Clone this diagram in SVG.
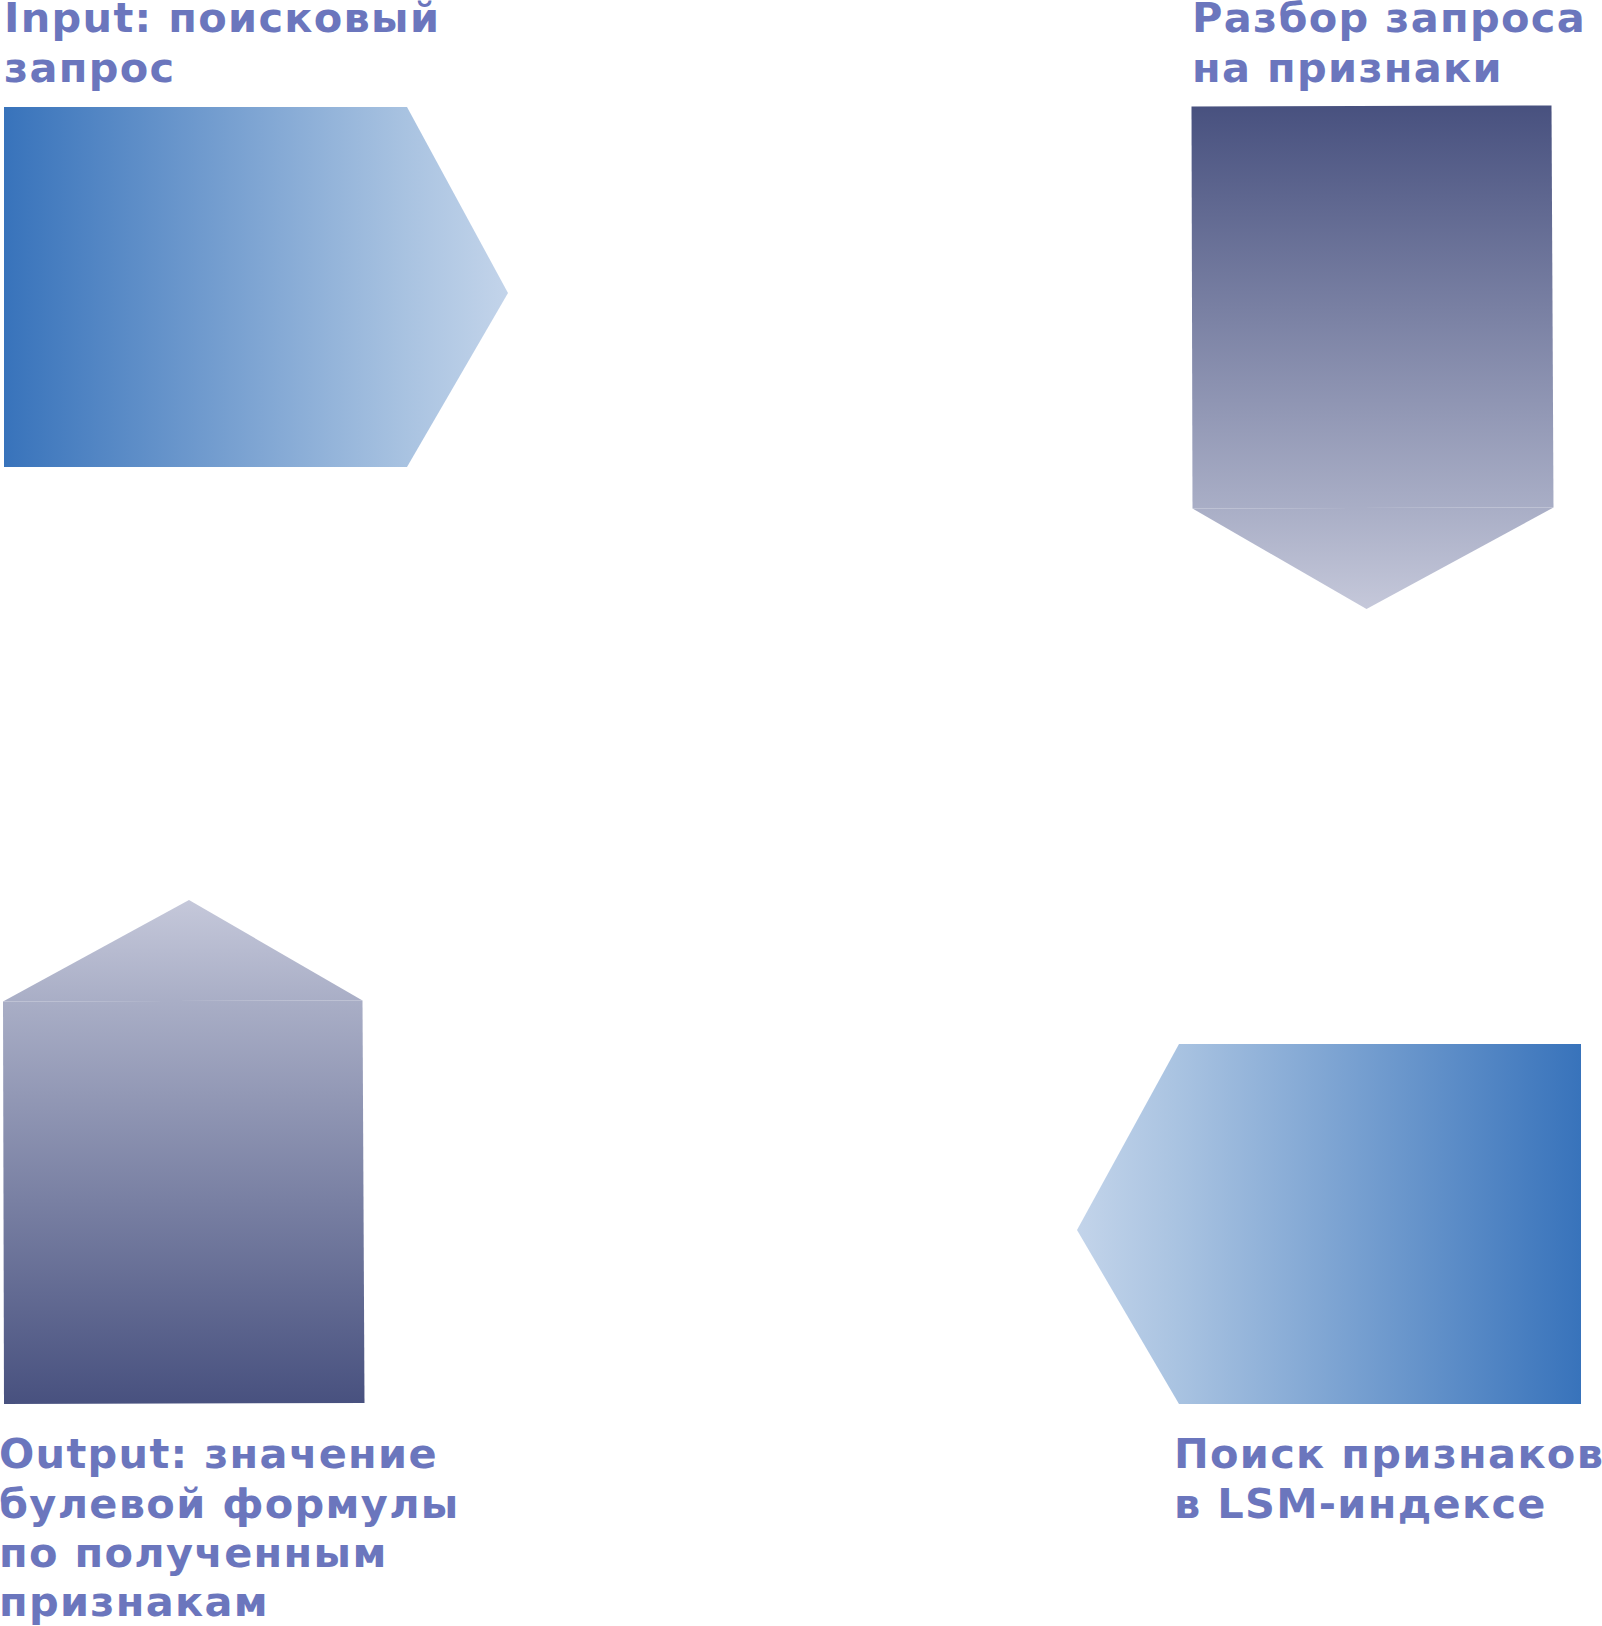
<svg xmlns="http://www.w3.org/2000/svg" width="1602" height="1626" viewBox="0 0 1602 1626">
<style>
.lbl{font-family:"DejaVu Sans","Liberation Sans",sans-serif;font-weight:bold;font-size:41.5px;letter-spacing:1.3px;fill:#6b76bd}
</style>
<defs>
<linearGradient id="gBlueR" gradientUnits="userSpaceOnUse" x1="4" y1="0" x2="508" y2="0">
<stop offset="0" stop-color="#3873bb"/>
<stop offset="0.8" stop-color="#a9c3e1"/>
<stop offset="1" stop-color="#c3d4ea"/>
</linearGradient>
<linearGradient id="gBlueL" gradientUnits="userSpaceOnUse" x1="1581" y1="0" x2="1077" y2="0">
<stop offset="0" stop-color="#3873bb"/>
<stop offset="0.8" stop-color="#a9c3e1"/>
<stop offset="1" stop-color="#c3d4ea"/>
</linearGradient>
<linearGradient id="gPurD" gradientUnits="userSpaceOnUse" x1="0" y1="106" x2="0" y2="609">
<stop offset="0" stop-color="#48517f"/>
<stop offset="0.8" stop-color="#a9aec6"/>
<stop offset="1" stop-color="#c5c8da"/>
</linearGradient>
<linearGradient id="gPurU" gradientUnits="userSpaceOnUse" x1="0" y1="1404" x2="0" y2="900">
<stop offset="0" stop-color="#48517f"/>
<stop offset="0.8" stop-color="#a9aec6"/>
<stop offset="1" stop-color="#c5c8da"/>
</linearGradient>
</defs>

<g id="node-input">
<polygon points="4,107 407,107 407,467 4,467" fill="url(#gBlueR)"/>
<polygon points="407,107 508,293 407,467" fill="url(#gBlueR)"/>
<text class="lbl" x="4" y="32">Input: поисковый</text>
<text class="lbl" x="4" y="82">запрос</text>
</g>

<g id="node-parse">
<polygon points="1191.5,106.5 1551.5,105.5 1553.5,507.5 1192.5,508.5" fill="url(#gPurD)"/>
<polygon points="1192.5,508.5 1366.5,609 1553.5,507.5" fill="url(#gPurD)"/>
<text class="lbl" x="1192" y="32">Разбор запроса</text>
<text class="lbl" x="1192" y="82">на признаки</text>
</g>

<g id="node-search">
<polygon points="1179,1044 1581,1044 1581,1404 1179,1404" fill="url(#gBlueL)"/>
<polygon points="1179,1044 1077,1230 1179,1404" fill="url(#gBlueL)"/>
<text class="lbl" x="1174" y="1468">Поиск признаков</text>
<text class="lbl" x="1174" y="1518">в LSM-индексе</text>
</g>

<g id="node-output">
<polygon points="3,1001.5 362.5,1000.5 364.5,1403 4,1404" fill="url(#gPurU)"/>
<polygon points="3,1001.5 189,900 362.5,1000.5" fill="url(#gPurU)"/>
<text class="lbl" x="-1" y="1468">Output: значение</text>
<text class="lbl" x="-1" y="1518">булевой формулы</text>
<text class="lbl" x="-1" y="1567">по полученным</text>
<text class="lbl" x="-1" y="1616">признакам</text>
</g>
</svg>
